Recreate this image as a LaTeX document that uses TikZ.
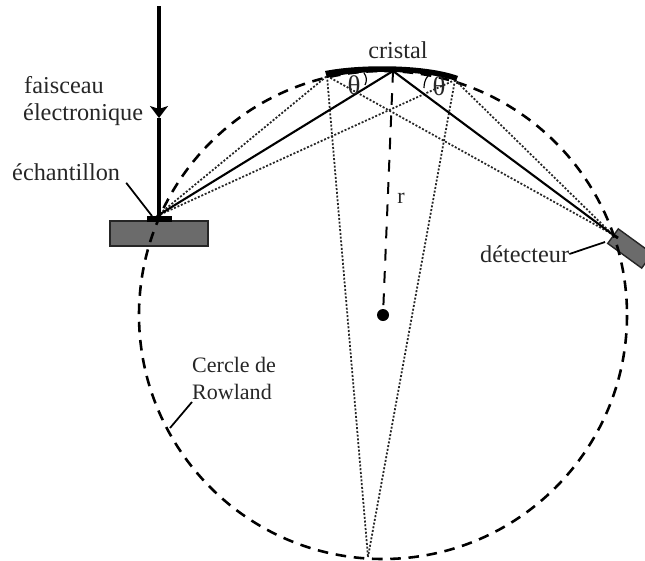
\documentclass[tikz,border=0pt]{standalone}
\usepackage{fontspec}
\setmainfont{Liberation Serif}
\usetikzlibrary{arrows.meta}
\tikzset{
  lbl/.style={font=\fontsize{20.7}{25.6}\selectfont,text=black!85,inner sep=0pt},
  lblsmall/.style={font=\fontsize{18.8}{23}\selectfont,text=black!85,inner sep=0pt},
  lblangle/.style={font=\fontsize{23}{26}\selectfont,text=black!85,inner sep=0pt},
  beam/.style={line width=3.8pt},
  ray/.style={line width=1.8pt},
  dotray/.style={line width=1.5pt,dash pattern=on 1.7pt off 1.5pt,black!85},
  rowland/.style={line width=2.2pt,dash pattern=on 9pt off 6.6pt},
  radius line/.style={line width=1.7pt,dash pattern=on 10pt off 9pt},
  leader/.style={line width=1.5pt},
  block/.style={draw=black!85,line width=1.2pt,fill=black!58,inner sep=0pt}
}
\begin{document}
\begin{tikzpicture}[x=0.03cm,y=-0.03cm]
\useasboundingbox (0,0) rectangle (645,561);
% sample and detector
\node[block,minimum width=2.94cm,minimum height=0.75cm] (sample) at (159,233.5) {};
\node[block,rotate=-36,minimum width=1.26cm,minimum height=0.54cm] (det) at (630,248.5) {};
\fill (147,216) rectangle (172,222);
% points
\coordinate (S) at (157,216);
\coordinate (D) at (612,234);
\coordinate (C) at (393,71);
\coordinate (B) at (368,557);
\coordinate (L) at (327,76);
\coordinate (R) at (455,80);
\coordinate (top) at (159,6);
\coordinate (mid) at (159,118);
\coordinate (foot) at (159,217);
% Rowland circle
\node[circle,fill,minimum size=0.36cm,inner sep=0pt] (centre) at (383,315) {};
\draw[rowland] (centre) circle (244);
\draw[radius line] (C) -- (centre);
% rays
\foreach \p in {L,R} {
  \draw[dotray] (S) -- (\p);
  \draw[dotray] (\p) -- (D);
  \draw[dotray] (\p) -- (B);
}
\draw[ray] (S) -- (C) -- (D);
\draw[line width=2.4pt] (D) -- ++(6,4);
% crystal
\fill (325,71) .. controls (360,64) and (425,64) .. (458,76) -- (456,81)
  .. controls (425,70) and (360,69) .. (327,78) -- cycle;
% beam
\draw[beam,-{Stealth[length=0.36cm,width=0.54cm,inset=0.09cm]}] (top) -- (mid);
\draw[beam] (mid) -- (foot);
% angles
\draw[line width=1pt] (364,73) .. controls (367,77) and (367,81) .. (365,85);
\draw[line width=1pt] (428,76) .. controls (425,79) and (424,84) .. (424,88);
\node[lblangle] (thetaL) at (354,85) {θ};
\node[lblangle] (thetaR) at (439,86) {θ};
% labels
\node[lbl] (cristal) at (398,50) {cristal};
\node[lblsmall] (r) at (401,198) {r};
\node[lbl,anchor=west] (fais) at (24,85) {faisceau};
\node[lbl,anchor=west] (elec) at (23,115) {électronique};
\node[lbl,anchor=west] (ech) at (12,172) {échantillon};
\node[lbl,anchor=west] (dett) at (480,254) {détecteur};
\node[lblsmall,anchor=west] (cerc) at (192,365) {Cercle de};
\node[lblsmall,anchor=west] (rowl) at (192,392) {Rowland};
% leaders
\draw[leader] (ech.south east) ++(6,2) -- (152,216);
\draw[leader] (dett.east) -- (605,242);
\draw[leader] (rowl.south west) ++(0,2) -- (170,428);
\end{tikzpicture}
\end{document}
